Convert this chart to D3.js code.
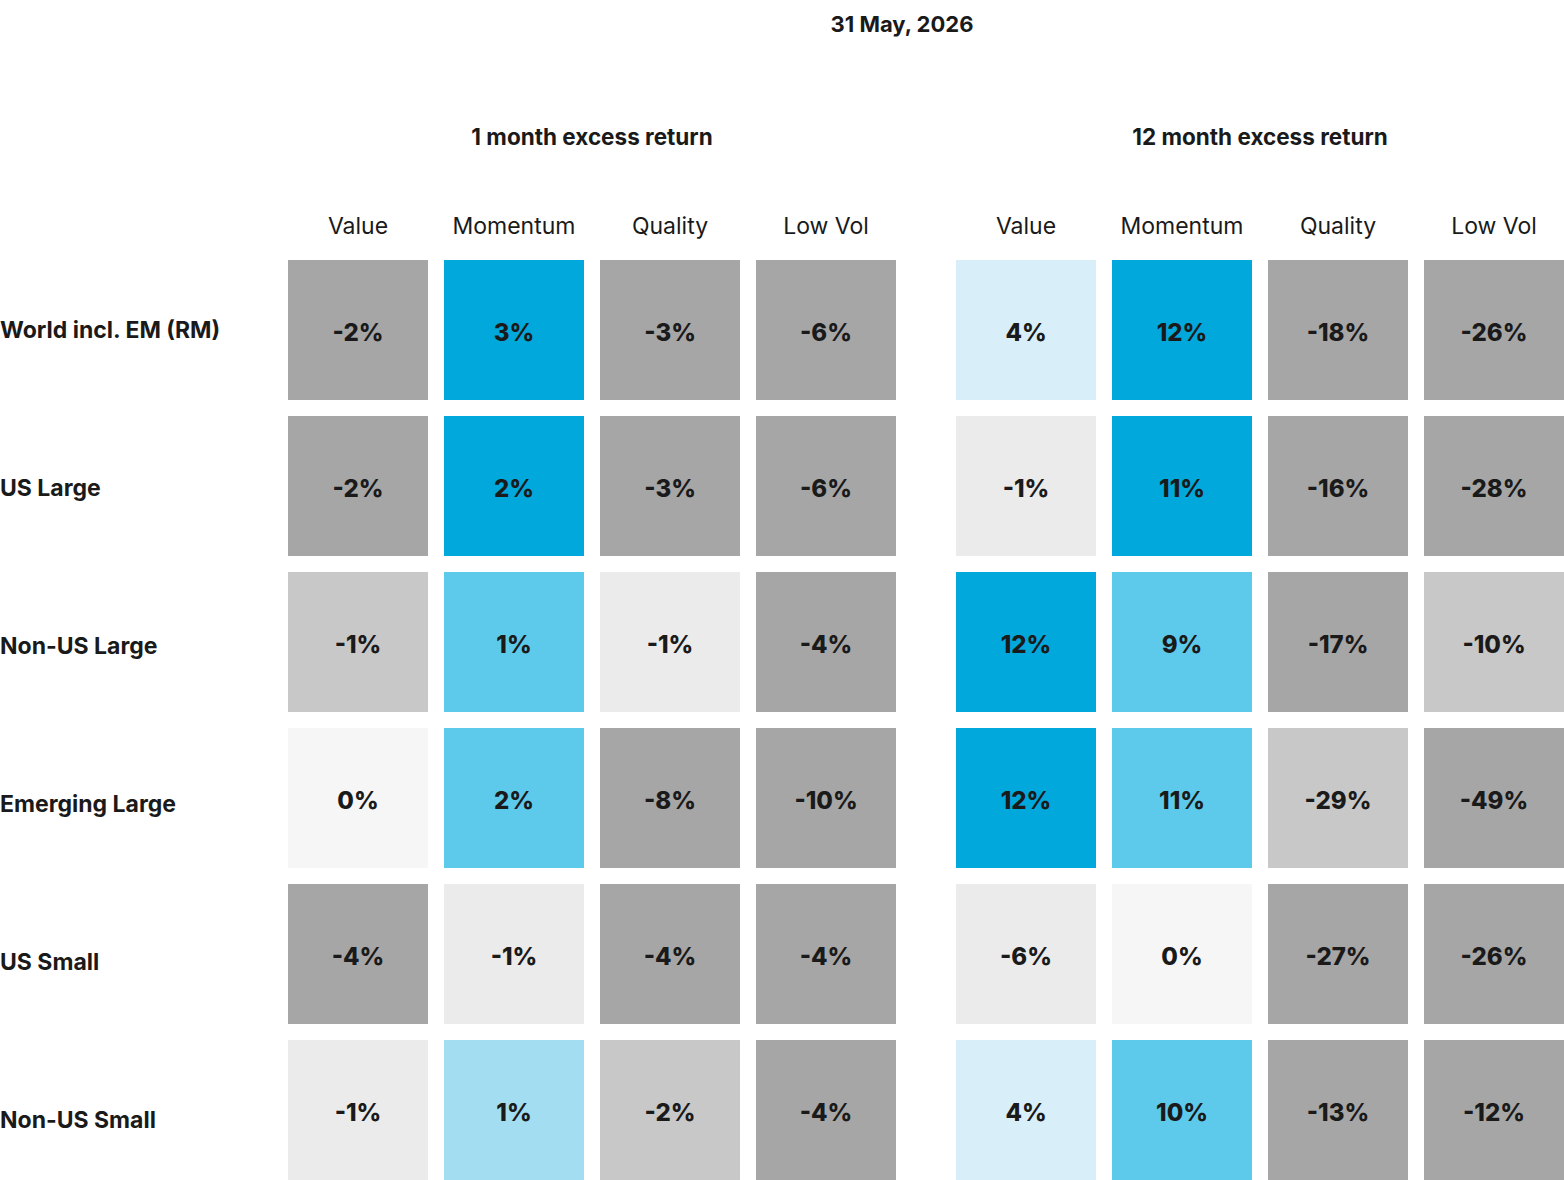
<!DOCTYPE html>
<html lang="en">
<head>
<meta charset="UTF-8">
<title>Factor excess returns</title>
<script src="https://d3js.org/d3.v7.min.js"></script>
<style>
  body { margin: 0; background: #fff; }
  text { font-family: Inter, "Noto Sans", sans-serif; fill: #1a1a1a; }
</style>
</head>
<body>
<svg width="1564" height="1180"></svg>
<script>
const title = "31 May, 2026";
const regions = ["World incl. EM (RM)", "US Large", "Non-US Large", "Emerging Large", "US Small", "Non-US Small"];
const factors = ["Value", "Momentum", "Quality", "Low Vol"];
const panelTitles = ["1 month excess return", "12 month excess return"];

// excess returns in %, one row per region
const returns1m = [
  [-2, 3, -3, -6],
  [-2, 2, -3, -6],
  [-1, 1, -1, -4],
  [0, 2, -8, -10],
  [-4, -1, -4, -4],
  [-1, 1, -2, -4]
];
const returns12m = [
  [4, 12, -18, -26],
  [-1, 11, -16, -28],
  [12, 9, -17, -10],
  [12, 11, -29, -49],
  [-6, 0, -27, -26],
  [4, 10, -13, -12]
];
// shading bucket for each cell (-3 strongly negative ... 4 strongly positive)
const levels1m = [
  [-3, 4, -3, -3],
  [-3, 4, -3, -3],
  [-2, 3, -1, -3],
  [0, 3, -3, -3],
  [-3, -1, -3, -3],
  [-1, 2, -2, -3]
];
const levels12m = [
  [1, 4, -3, -3],
  [-1, 4, -3, -3],
  [4, 3, -3, -2],
  [4, 3, -2, -3],
  [-1, 0, -3, -3],
  [1, 3, -3, -3]
];

const svg = d3.select("svg");

const color = d3.scaleOrdinal()
  .domain([-3, -2, -1, 0, 1, 2, 3, 4])
  .range(["#a6a6a6", "#c8c8c8", "#ebebeb", "#f6f6f6", "#d8eff9", "#a3ddf1", "#5ecaeb", "#00a8dc"]);

const y = d3.scaleBand().domain(regions).range([260, 1180]).paddingInner(16 / 156);

const panels = [
  {title: panelTitles[0], values: returns1m, levels: levels1m, range: [288, 896]},
  {title: panelTitles[1], values: returns12m, levels: levels12m, range: [956, 1564]}
];

svg.append("text")
  .attr("x", 902).attr("y", 24)
  .attr("text-anchor", "middle").attr("dominant-baseline", "central")
  .style("font-size", "22px").style("font-weight", 700)
  .text(title);

svg.selectAll("text.region")
  .data(regions)
  .enter().append("text")
  .attr("class", "region")
  .attr("x", 0)
  .attr("y", (d, i) => y(d) + y.bandwidth() / 2 + i * 2)
  .attr("dominant-baseline", "central")
  .style("font-size", "23px").style("font-weight", 700)
  .text(d => d);

panels.forEach(p => {
  const x = d3.scaleBand().domain(factors).range(p.range).paddingInner(16 / 156);
  const g = svg.append("g");

  g.append("text")
    .attr("x", (p.range[0] + p.range[1]) / 2).attr("y", 136)
    .attr("text-anchor", "middle").attr("dominant-baseline", "central")
    .style("font-size", "22.5px").style("font-weight", 700)
    .text(p.title);

  g.selectAll("text.factor")
    .data(factors)
    .enter().append("text")
    .attr("class", "factor")
    .attr("x", d => x(d) + x.bandwidth() / 2)
    .attr("y", 226)
    .attr("text-anchor", "middle").attr("dominant-baseline", "central")
    .style("font-size", "23px").style("font-weight", 400)
    .text(d => d);

  const cells = [];
  regions.forEach((r, i) => factors.forEach((f, j) => {
    cells.push({region: r, factor: f, value: p.values[i][j], level: p.levels[i][j]});
  }));

  const cell = g.selectAll("g.cell")
    .data(cells)
    .enter().append("g")
    .attr("class", "cell")
    .attr("transform", d => `translate(${x(d.factor)},${y(d.region)})`);

  cell.append("rect")
    .attr("width", x.bandwidth())
    .attr("height", y.bandwidth())
    .style("fill", d => color(d.level));

  cell.append("text")
    .attr("x", x.bandwidth() / 2)
    .attr("y", y.bandwidth() / 2 + 2)
    .attr("text-anchor", "middle").attr("dominant-baseline", "central")
    .style("font-size", "24px").style("font-weight", 800)
    .text(d => d.value + "%");
});
</script>
</body>
</html>
